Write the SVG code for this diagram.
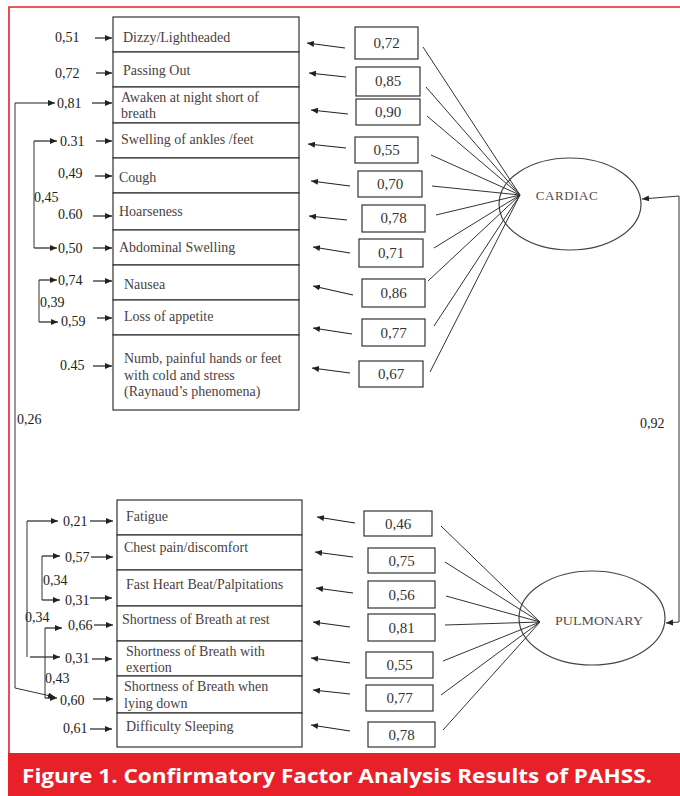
<svg xmlns="http://www.w3.org/2000/svg" width="680" height="796" viewBox="0 0 680 796">
<style>
.box{fill:#fff;stroke:#333;stroke-width:1.2}
.ebox{fill:#fff;stroke:#333;stroke-width:1.2}
.it{font-family:"Liberation Serif",serif;font-size:14px;fill:#4a3f3f}
.num{font-family:"Liberation Serif",serif;font-size:14px;fill:#222}
.ev{font-family:"Liberation Serif",serif;font-size:15px;fill:#333;text-anchor:middle}
.lat{font-family:"Liberation Serif",serif;font-size:13px;fill:#5a4a4a;text-anchor:middle}
.ln{stroke:#333;stroke-width:1;fill:none}
.ar{stroke:#222;stroke-width:1.2;fill:none;marker-end:url(#ah)}
</style>
<defs>
<marker id="ah" markerUnits="userSpaceOnUse" markerWidth="8" markerHeight="6" refX="7" refY="3" orient="auto">
<path d="M0,0 L7,3 L0,6 Z" fill="#222"/>
</marker>
<marker id="ah2" markerUnits="userSpaceOnUse" markerWidth="8" markerHeight="6" refX="7" refY="3" orient="auto-start-reverse">
<path d="M0,0 L7,3 L0,6 Z" fill="#222"/>
</marker>
</defs>
<rect x="0" y="0" width="680" height="796" fill="#fff"/>
<!-- frame -->
<path d="M9,753 V7 H680" fill="none" stroke="#e8202a" stroke-width="1.6"/>
<rect x="8" y="753" width="672" height="43" fill="#e8202a"/>
<text x="22" y="783" font-family="'Open Sans','Noto Sans',sans-serif" font-weight="bold" font-size="20" fill="#fff" textLength="630" lengthAdjust="spacingAndGlyphs">Figure 1. Confirmatory Factor Analysis Results of PAHSS.</text>

<!-- Cardiac indicators -->
<g id="c1"><rect class="box" x="113" y="17" width="186" height="35"/><text class="it" x="123" y="42">Dizzy/Lightheaded</text></g>
<g id="c2"><rect class="box" x="113" y="52" width="186" height="35"/><text class="it" x="123" y="75">Passing Out</text></g>
<g id="c3"><rect class="box" x="113" y="87" width="186" height="36"/><text class="it" x="121" y="102">Awaken at night short of</text><text class="it" x="121" y="118">breath</text></g>
<g id="c4"><rect class="box" x="113" y="123" width="186" height="35"/><text class="it" x="121" y="144">Swelling of ankles /feet</text></g>
<g id="c5"><rect class="box" x="113" y="158" width="186" height="35"/><text class="it" x="119" y="182">Cough</text></g>
<g id="c6"><rect class="box" x="113" y="193" width="186" height="37"/><text class="it" x="119" y="216">Hoarseness</text></g>
<g id="c7"><rect class="box" x="113" y="230" width="186" height="35"/><text class="it" x="119" y="252">Abdominal Swelling</text></g>
<g id="c8"><rect class="box" x="113" y="265" width="186" height="35"/><text class="it" x="124" y="289">Nausea</text></g>
<g id="c9"><rect class="box" x="113" y="300" width="186" height="35"/><text class="it" x="124" y="321">Loss of appetite</text></g>
<g id="c10"><rect class="box" x="113" y="335" width="186" height="75"/><text class="it" x="124" y="363">Numb, painful hands or feet</text><text class="it" x="124" y="380">with cold and stress</text><text class="it" x="124" y="396">(Raynaud’s phenomena)</text></g>

<!-- Cardiac error boxes -->
<g id="ce1"><rect class="ebox" x="355" y="27" width="63" height="32"/><text class="ev" x="386.5" y="48">0,72</text></g>
<g id="ce2"><rect class="ebox" x="356" y="67" width="64" height="29"/><text class="ev" x="388" y="86">0,85</text></g>
<g id="ce3"><rect class="ebox" x="356" y="99" width="64" height="26"/><text class="ev" x="388" y="117">0,90</text></g>
<g id="ce4"><rect class="ebox" x="355" y="137" width="63" height="26"/><text class="ev" x="386.5" y="155">0,55</text></g>
<g id="ce5"><rect class="ebox" x="358" y="171" width="64" height="26"/><text class="ev" x="390" y="189">0,70</text></g>
<g id="ce6"><rect class="ebox" x="362" y="205" width="63" height="27"/><text class="ev" x="393.5" y="223">0,78</text></g>
<g id="ce7"><rect class="ebox" x="359" y="239" width="64" height="28"/><text class="ev" x="391" y="258">0,71</text></g>
<g id="ce8"><rect class="ebox" x="362" y="279" width="63" height="28"/><text class="ev" x="393.5" y="298">0,86</text></g>
<g id="ce9"><rect class="ebox" x="362" y="319" width="63" height="27"/><text class="ev" x="393.5" y="338">0,77</text></g>
<g id="ce10"><rect class="ebox" x="359" y="361" width="64" height="26"/><text class="ev" x="391" y="379">0,67</text></g>

<!-- CARDIAC latent -->
<g id="cardiac"><ellipse cx="570" cy="204" rx="71" ry="46" fill="#fff" stroke="#444" stroke-width="1.2"/><text class="lat" x="567" y="200" font-size="14" letter-spacing="0.6">CARDIAC</text></g>

<!-- Pulmonary indicators -->
<g id="p1"><rect class="box" x="117" y="500" width="185" height="35"/><text class="it" x="126" y="521">Fatigue</text></g>
<g id="p2"><rect class="box" x="117" y="535" width="185" height="35"/><text class="it" x="124" y="552">Chest pain/discomfort</text></g>
<g id="p3"><rect class="box" x="117" y="570" width="185" height="36"/><text class="it" x="126" y="589">Fast Heart Beat/Palpitations</text></g>
<g id="p4"><rect class="box" x="117" y="606" width="185" height="35"/><text class="it" x="122" y="624">Shortness of Breath at rest</text></g>
<g id="p5"><rect class="box" x="117" y="641" width="185" height="35"/><text class="it" x="126" y="656">Shortness of Breath with</text><text class="it" x="126" y="672">exertion</text></g>
<g id="p6"><rect class="box" x="117" y="676" width="185" height="37"/><text class="it" x="124" y="691">Shortness of Breath when</text><text class="it" x="124" y="708">lying down</text></g>
<g id="p7"><rect class="box" x="117" y="713" width="185" height="34"/><text class="it" x="126" y="731">Difficulty Sleeping</text></g>

<!-- Pulmonary error boxes -->
<g id="pe1"><rect class="ebox" x="364" y="511" width="68" height="25"/><text class="ev" x="398" y="529">0,46</text></g>
<g id="pe2"><rect class="ebox" x="368" y="548" width="67" height="25"/><text class="ev" x="401.5" y="566">0,75</text></g>
<g id="pe3"><rect class="ebox" x="368" y="581" width="67" height="27"/><text class="ev" x="401.5" y="600">0,56</text></g>
<g id="pe4"><rect class="ebox" x="368" y="614" width="67" height="27"/><text class="ev" x="401.5" y="633">0,81</text></g>
<g id="pe5"><rect class="ebox" x="366" y="652" width="67" height="26"/><text class="ev" x="399.5" y="670">0,55</text></g>
<g id="pe6"><rect class="ebox" x="366" y="685" width="67" height="26"/><text class="ev" x="399.5" y="703">0,77</text></g>
<g id="pe7"><rect class="ebox" x="368" y="722" width="67" height="25"/><text class="ev" x="401.5" y="740">0,78</text></g>

<!-- PULMONARY latent -->
<g id="pulmonary"><ellipse cx="592" cy="618" rx="73" ry="47" fill="#fff" stroke="#444" stroke-width="1.2"/><text class="lat" x="599" y="625" textLength="88" lengthAdjust="spacingAndGlyphs">PULMONARY</text></g>

<!-- labels (values) -->
<g id="values">
<text class="num" x="55" y="42">0,51</text>
<text class="num" x="55" y="78">0,72</text>
<text class="num" x="57" y="108">0,81</text>
<text class="num" x="60" y="146">0.31</text>
<text class="num" x="58" y="178">0,49</text>
<text class="num" x="34" y="202">0,45</text>
<text class="num" x="58" y="219">0.60</text>
<text class="num" x="58" y="253">0,50</text>
<text class="num" x="58" y="285">0,74</text>
<text class="num" x="40" y="307">0,39</text>
<text class="num" x="61" y="326">0,59</text>
<text class="num" x="60" y="370">0.45</text>
<text class="num" x="17" y="424">0,26</text>
<text class="num" x="640" y="428">0,92</text>
<text class="num" x="63" y="526">0,21</text>
<text class="num" x="65" y="562">0,57</text>
<text class="num" x="43" y="585">0,34</text>
<text class="num" x="65" y="605">0,31</text>
<text class="num" x="25" y="622">0,34</text>
<text class="num" x="68" y="630">0,66</text>
<text class="num" x="65" y="663">0,31</text>
<text class="num" x="45" y="683">0,43</text>
<text class="num" x="60" y="705">0,60</text>
<text class="num" x="63" y="733">0,61</text>
</g>

<!-- connectors -->
<g id="connectors">
<!-- value -> indicator arrows (cardiac) -->
<line class="ar" x1="95" y1="38" x2="112" y2="38"/>
<line class="ar" x1="96" y1="73" x2="112" y2="73"/>
<line class="ar" x1="92" y1="103" x2="112" y2="103"/>
<line class="ar" x1="96" y1="141" x2="112" y2="141"/>
<line class="ar" x1="95" y1="176" x2="112" y2="176"/>
<line class="ar" x1="93" y1="216" x2="112" y2="216"/>
<line class="ar" x1="93" y1="248" x2="112" y2="248"/>
<line class="ar" x1="93" y1="281" x2="112" y2="281"/>
<line class="ar" x1="97" y1="318" x2="112" y2="318"/>
<line class="ar" x1="93" y1="366" x2="112" y2="366"/>
<!-- covariance brackets cardiac -->
<path class="ln" d="M34,141 V248"/>
<line class="ar" x1="34" y1="141" x2="57" y2="141"/>
<line class="ar" x1="34" y1="248" x2="57" y2="248"/>
<path class="ln" d="M39,280 V322"/>
<line class="ar" x1="39" y1="280" x2="57" y2="280"/>
<line class="ar" x1="39" y1="322" x2="58" y2="322"/>
<!-- long 0,26 -->
<path class="ln" d="M15,103 V688 L55,697" marker-end="url(#ah)"/>
<line class="ar" x1="15" y1="103" x2="55" y2="103"/>
<!-- error -> indicator (cardiac) -->
<line class="ar" x1="345" y1="48" x2="307" y2="43"/>
<line class="ar" x1="346" y1="77" x2="309" y2="73"/>
<line class="ar" x1="348" y1="114" x2="311" y2="110"/>
<line class="ar" x1="346" y1="148" x2="308" y2="144"/>
<line class="ar" x1="350" y1="186" x2="311" y2="181"/>
<line class="ar" x1="347" y1="220" x2="309" y2="216"/>
<line class="ar" x1="350" y1="253" x2="313" y2="247"/>
<line class="ar" x1="353" y1="295" x2="313" y2="286"/>
<line class="ar" x1="352" y1="334" x2="313" y2="328"/>
<line class="ar" x1="350" y1="373" x2="312" y2="368"/>
<!-- cardiac loadings -->
<path class="ln" d="M520,195 L423,47 M520,195 L426,87 M520,195 L427,116 M520,195 L431,155 M520,195 L432,186 M520,195 L436,215 M520,195 L434,248 M520,195 L428,281 M520,195 L434,326 M520,195 L430,372"/>
<!-- 0,92 covariance -->
<path class="ln" d="M642,199 L679,196 V622 L666,623" marker-start="url(#ah2)" marker-end="url(#ah2)"/>
<!-- value -> indicator arrows (pulmonary) -->
<line class="ar" x1="90" y1="521" x2="113" y2="521"/>
<line class="ar" x1="91" y1="557" x2="113" y2="557"/>
<line class="ar" x1="90" y1="598" x2="112" y2="598"/>
<line class="ar" x1="94" y1="625" x2="113" y2="625"/>
<line class="ar" x1="92" y1="659" x2="112" y2="659"/>
<line class="ar" x1="93" y1="699" x2="113" y2="699"/>
<line class="ar" x1="90" y1="729" x2="112" y2="729"/>
<!-- covariance brackets pulmonary -->
<path class="ln" d="M27,521 V657"/>
<line class="ar" x1="27" y1="521" x2="58" y2="521"/>
<line class="ar" x1="30" y1="657" x2="60" y2="657"/>
<path class="ln" d="M42,556 V600"/>
<line class="ar" x1="42" y1="556" x2="60" y2="556"/>
<line class="ar" x1="42" y1="600" x2="60" y2="600"/>
<path class="ln" d="M45,628 V698"/>
<line class="ar" x1="45" y1="628" x2="62" y2="628"/>
<line class="ar" x1="45" y1="698" x2="57" y2="698"/>
<!-- error -> indicator (pulmonary) -->
<line class="ar" x1="355" y1="523" x2="317" y2="517"/>
<line class="ar" x1="353" y1="557" x2="315" y2="552"/>
<line class="ar" x1="353" y1="593" x2="316" y2="588"/>
<line class="ar" x1="350" y1="627" x2="313" y2="622"/>
<line class="ar" x1="350" y1="663" x2="311" y2="658"/>
<line class="ar" x1="350" y1="694" x2="313" y2="690"/>
<line class="ar" x1="350" y1="731" x2="311" y2="725"/>
<!-- pulmonary loadings -->
<path class="ln" d="M540,622 L441,526 M540,622 L445,562 M540,622 L446,596 M540,622 L445,625 M540,622 L443,661 M540,622 L441,695 M540,622 L443,730"/>
</g>
</svg>
